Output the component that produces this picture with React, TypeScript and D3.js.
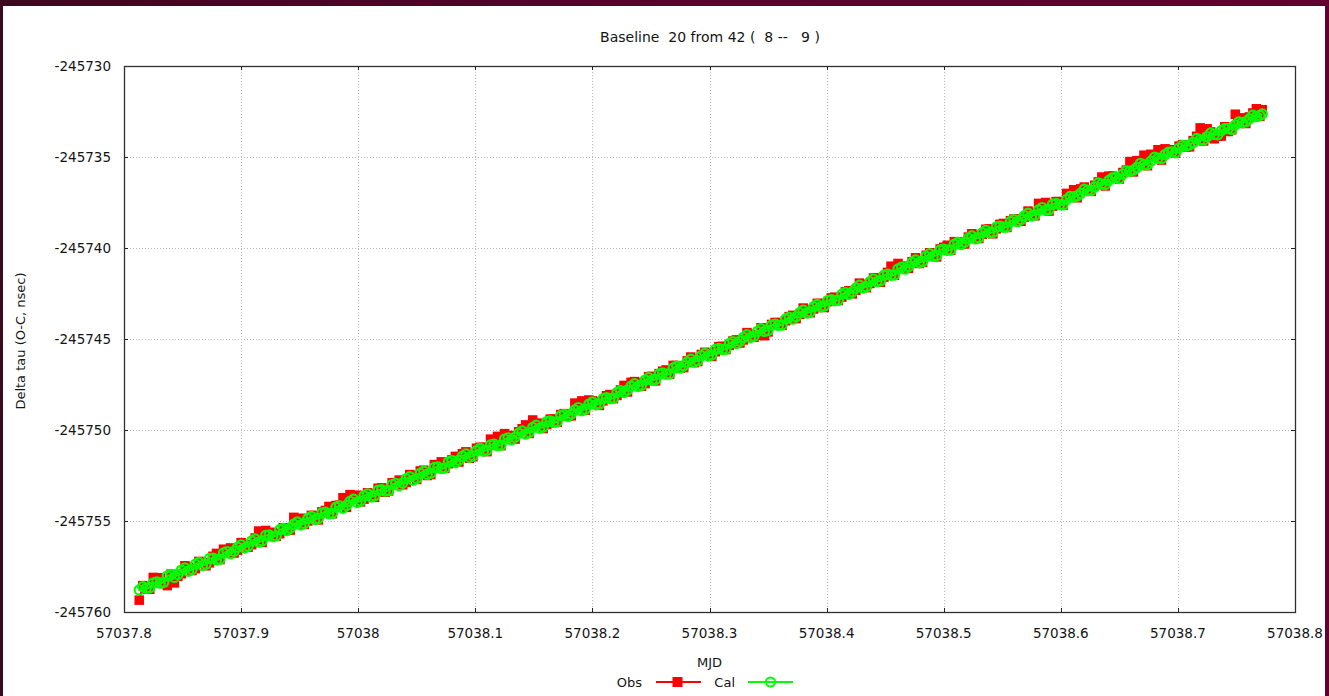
import React from "react";
import * as d3 from "d3";

// Baseline 20 (stations 8 -- 9): observed and calculated delay residuals vs MJD
const mjd = [
  57037.813, 57037.816, 57037.819, 57037.822, 57037.825, 57037.828, 57037.831, 57037.834, 57037.837, 57037.840,
  57037.843, 57037.846, 57037.849, 57037.852, 57037.855, 57037.858, 57037.861, 57037.864, 57037.867, 57037.870,
  57037.873, 57037.876, 57037.879, 57037.882, 57037.885, 57037.888, 57037.891, 57037.894, 57037.897, 57037.900,
  57037.903, 57037.906, 57037.909, 57037.912, 57037.915, 57037.918, 57037.921, 57037.924, 57037.927, 57037.930,
  57037.933, 57037.936, 57037.939, 57037.942, 57037.945, 57037.948, 57037.951, 57037.954, 57037.957, 57037.960,
  57037.963, 57037.966, 57037.969, 57037.972, 57037.975, 57037.978, 57037.981, 57037.984, 57037.987, 57037.990,
  57037.993, 57037.996, 57037.999, 57038.002, 57038.005, 57038.008, 57038.011, 57038.014, 57038.017, 57038.020,
  57038.023, 57038.026, 57038.029, 57038.032, 57038.035, 57038.038, 57038.041, 57038.044, 57038.047, 57038.050,
  57038.053, 57038.056, 57038.059, 57038.062, 57038.065, 57038.068, 57038.071, 57038.074, 57038.077, 57038.080,
  57038.083, 57038.086, 57038.089, 57038.092, 57038.095, 57038.098, 57038.101, 57038.104, 57038.107, 57038.110,
  57038.113, 57038.116, 57038.119, 57038.122, 57038.125, 57038.128, 57038.131, 57038.134, 57038.137, 57038.140,
  57038.143, 57038.146, 57038.149, 57038.152, 57038.155, 57038.158, 57038.161, 57038.164, 57038.167, 57038.170,
  57038.173, 57038.176, 57038.179, 57038.182, 57038.185, 57038.188, 57038.191, 57038.194, 57038.197, 57038.200,
  57038.203, 57038.206, 57038.209, 57038.212, 57038.215, 57038.218, 57038.221, 57038.224, 57038.227, 57038.230,
  57038.233, 57038.236, 57038.239, 57038.242, 57038.245, 57038.248, 57038.251, 57038.254, 57038.257, 57038.260,
  57038.263, 57038.266, 57038.269, 57038.272, 57038.275, 57038.278, 57038.281, 57038.284, 57038.287, 57038.290,
  57038.293, 57038.296, 57038.299, 57038.302, 57038.305, 57038.308, 57038.311, 57038.314, 57038.317, 57038.320,
  57038.323, 57038.326, 57038.329, 57038.332, 57038.335, 57038.338, 57038.341, 57038.344, 57038.347, 57038.350,
  57038.353, 57038.356, 57038.359, 57038.362, 57038.365, 57038.368, 57038.371, 57038.374, 57038.377, 57038.380,
  57038.383, 57038.386, 57038.389, 57038.392, 57038.395, 57038.398, 57038.401, 57038.404, 57038.407, 57038.410,
  57038.413, 57038.416, 57038.419, 57038.422, 57038.425, 57038.428, 57038.431, 57038.434, 57038.437, 57038.440,
  57038.443, 57038.446, 57038.449, 57038.452, 57038.455, 57038.458, 57038.461, 57038.464, 57038.467, 57038.470,
  57038.473, 57038.476, 57038.479, 57038.482, 57038.485, 57038.488, 57038.491, 57038.494, 57038.497, 57038.500,
  57038.503, 57038.506, 57038.509, 57038.512, 57038.515, 57038.518, 57038.521, 57038.524, 57038.527, 57038.530,
  57038.533, 57038.536, 57038.539, 57038.542, 57038.545, 57038.548, 57038.551, 57038.554, 57038.557, 57038.560,
  57038.563, 57038.566, 57038.569, 57038.572, 57038.575, 57038.578, 57038.581, 57038.584, 57038.587, 57038.590,
  57038.593, 57038.596, 57038.599, 57038.602, 57038.605, 57038.608, 57038.611, 57038.614, 57038.617, 57038.620,
  57038.623, 57038.626, 57038.629, 57038.632, 57038.635, 57038.638, 57038.641, 57038.644, 57038.647, 57038.650,
  57038.653, 57038.656, 57038.659, 57038.662, 57038.665, 57038.668, 57038.671, 57038.674, 57038.677, 57038.680,
  57038.683, 57038.686, 57038.689, 57038.692, 57038.695, 57038.698, 57038.701, 57038.704, 57038.707, 57038.710,
  57038.713, 57038.716, 57038.719, 57038.722, 57038.725, 57038.728, 57038.731, 57038.734, 57038.737, 57038.740,
  57038.743, 57038.746, 57038.749, 57038.752, 57038.755, 57038.758, 57038.761, 57038.764, 57038.767, 57038.770,
  57038.772,
];

const obs = [
  -245759.35, -245758.55, -245758.75, -245758.75, -245758.10, -245758.25, -245758.12, -245758.39, -245758.55, -245757.92,
  -245758.40, -245758.04, -245757.90, -245757.46, -245757.55, -245757.72, -245757.62, -245757.22, -245757.30, -245757.46,
  -245757.30, -245756.94, -245756.78, -245757.12, -245756.55, -245756.64, -245756.48, -245756.76, -245756.60, -245756.19,
  -245756.30, -245756.44, -245756.30, -245755.93, -245755.55, -245756.18, -245755.52, -245755.67, -245755.62, -245755.84,
  -245755.70, -245755.37, -245755.40, -245755.50, -245754.80, -245754.93, -245754.85, -245755.19, -245755.00, -245754.69,
  -245754.70, -245754.94, -245754.50, -245754.42, -245754.20, -245754.60, -245754.15, -245754.13, -245753.72, -245754.25,
  -245753.55, -245753.68, -245753.58, -245753.95, -245753.80, -245753.45, -245753.50, -245753.70, -245753.20, -245753.18,
  -245753.42, -245753.35, -245752.90, -245752.89, -245752.75, -245753.01, -245752.88, -245752.45, -245752.50, -245752.72,
  -245752.25, -245752.21, -245752.50, -245752.45, -245751.90, -245751.93, -245751.75, -245752.11, -245751.85, -245751.64,
  -245751.45, -245751.76, -245751.30, -245751.20, -245751.55, -245751.47, -245751.00, -245750.95, -245750.95, -245751.19,
  -245750.50, -245750.68, -245750.35, -245750.86, -245750.20, -245750.39, -245750.30, -245750.50, -245750.10, -245749.93,
  -245749.72, -245750.19, -245749.45, -245749.68, -245749.62, -245749.92, -245749.70, -245749.40, -245749.40, -245749.57,
  -245749.15, -245749.10, -245749.25, -245749.22, -245748.52, -245748.65, -245748.40, -245748.91, -245748.35, -245748.40,
  -245748.45, -245748.65, -245748.40, -245748.12, -245748.05, -245748.28, -245748.10, -245747.80, -245747.55, -245747.91,
  -245747.38, -245747.34, -245747.40, -245747.59, -245747.45, -245747.07, -245747.05, -245747.30, -245746.90, -245746.77,
  -245746.70, -245746.94, -245746.45, -245746.46, -245746.60, -245746.57, -245746.20, -245745.99, -245746.30, -245746.24,
  -245745.85, -245745.73, -245745.80, -245745.96, -245745.70, -245745.42, -245745.40, -245745.58, -245745.35, -245745.11,
  -245745.05, -245745.22, -245745.05, -245744.65, -245744.75, -245744.90, -245744.80, -245744.38, -245744.82, -245744.61,
  -245744.20, -245744.09, -245744.10, -245744.25, -245744.00, -245743.77, -245743.70, -245743.88, -245743.65, -245743.30,
  -245743.40, -245743.56, -245743.35, -245743.04, -245743.05, -245743.27, -245742.95, -245742.74, -245742.70, -245742.89,
  -245742.70, -245742.41, -245742.35, -245742.52, -245742.32, -245741.93, -245742.00, -245742.18, -245741.95, -245741.65,
  -245741.65, -245741.88, -245741.60, -245741.34, -245741.00, -245741.50, -245740.85, -245741.02, -245741.00, -245741.12,
  -245740.75, -245740.54, -245740.85, -245740.79, -245740.40, -245740.26, -245740.45, -245740.49, -245740.05, -245739.96,
  -245739.85, -245740.13, -245739.65, -245739.66, -245739.80, -245739.78, -245739.40, -245739.22, -245739.30, -245739.48,
  -245739.25, -245738.97, -245738.95, -245739.22, -245738.95, -245738.70, -245738.65, -245738.87, -245738.50, -245738.41,
  -245738.40, -245738.53, -245738.30, -245737.97, -245738.05, -245738.23, -245737.55, -245737.72, -245737.50, -245737.97,
  -245737.70, -245737.45, -245737.45, -245737.65, -245737.00, -245737.13, -245736.80, -245737.24, -245736.75, -245736.65,
  -245736.85, -245736.89, -245736.55, -245736.37, -245736.10, -245736.59, -245736.05, -245736.05, -245736.15, -245736.21,
  -245735.85, -245735.72, -245735.25, -245735.82, -245735.20, -245735.23, -245734.90, -245735.48, -245734.85, -245734.95,
  -245734.60, -245735.17, -245734.55, -245734.64, -245734.60, -245734.79, -245734.40, -245734.32, -245734.45, -245734.44,
  -245734.10, -245733.86, -245733.40, -245734.12, -245733.45, -245733.62, -245734.00, -245733.86, -245733.85, -245733.34,
  -245733.60, -245733.51, -245732.65, -245733.04, -245732.85, -245733.16, -245732.80, -245732.58, -245732.35, -245732.77,
  -245732.40,
];

const cal = [
  -245758.79, -245758.61, -245758.70, -245758.67, -245758.40, -245758.35, -245758.42, -245758.37, -245758.02, -245757.96,
  -245758.10, -245757.94, -245757.70, -245757.58, -245757.76, -245757.67, -245757.38, -245757.28, -245757.45, -245757.38,
  -245757.06, -245757.04, -245757.14, -245757.10, -245756.76, -245756.68, -245756.80, -245756.66, -245756.44, -245756.31,
  -245756.48, -245756.39, -245756.10, -245755.99, -245756.16, -245756.10, -245755.80, -245755.77, -245755.86, -245755.82,
  -245755.48, -245755.41, -245755.54, -245755.40, -245755.18, -245755.05, -245755.22, -245755.14, -245754.86, -245754.75,
  -245754.92, -245754.86, -245754.56, -245754.52, -245754.61, -245754.58, -245754.24, -245754.17, -245754.30, -245754.15,
  -245753.92, -245753.80, -245753.98, -245753.90, -245753.62, -245753.51, -245753.68, -245753.62, -245753.31, -245753.28,
  -245753.36, -245753.33, -245753.00, -245752.93, -245753.06, -245752.91, -245752.68, -245752.57, -245752.76, -245752.67,
  -245752.38, -245752.27, -245752.44, -245752.37, -245752.06, -245752.03, -245752.12, -245752.09, -245751.76, -245751.68,
  -245751.80, -245751.66, -245751.44, -245751.32, -245751.50, -245751.42, -245751.14, -245751.01, -245751.16, -245751.11,
  -245750.82, -245750.78, -245750.86, -245750.84, -245750.51, -245750.43, -245750.54, -245750.40, -245750.18, -245750.05,
  -245750.22, -245750.14, -245749.86, -245749.74, -245749.90, -245749.84, -245749.54, -245749.50, -245749.58, -245749.55,
  -245749.22, -245749.14, -245749.26, -245749.12, -245748.90, -245748.77, -245748.94, -245748.86, -245748.58, -245748.46,
  -245748.61, -245748.57, -245748.28, -245748.22, -245748.28, -245748.26, -245747.94, -245747.84, -245747.94, -245747.81,
  -245747.60, -245747.46, -245747.61, -245747.54, -245747.26, -245747.13, -245747.27, -245747.22, -245746.92, -245746.87,
  -245746.94, -245746.92, -245746.59, -245746.50, -245746.60, -245746.47, -245746.26, -245746.11, -245746.26, -245746.19,
  -245745.92, -245745.79, -245745.93, -245745.88, -245745.58, -245745.52, -245745.58, -245745.56, -245745.24, -245745.15,
  -245745.25, -245745.12, -245744.91, -245744.77, -245744.92, -245744.85, -245744.58, -245744.44, -245744.58, -245744.53,
  -245744.24, -245744.19, -245744.25, -245744.23, -245743.90, -245743.81, -245743.91, -245743.78, -245743.56, -245743.42,
  -245743.58, -245743.51, -245743.23, -245743.10, -245743.24, -245743.19, -245742.89, -245742.84, -245742.90, -245742.87,
  -245742.54, -245742.45, -245742.55, -245742.42, -245742.20, -245742.05, -245742.20, -245742.13, -245741.85, -245741.71,
  -245741.85, -245741.80, -245741.50, -245741.44, -245741.50, -245741.48, -245741.15, -245741.06, -245741.16, -245741.02,
  -245740.80, -245740.66, -245740.81, -245740.74, -245740.46, -245740.32, -245740.46, -245740.41, -245740.11, -245740.06,
  -245740.12, -245740.11, -245739.79, -245739.70, -245739.81, -245739.68, -245739.47, -245739.34, -245739.50, -245739.43,
  -245739.16, -245739.03, -245739.18, -245739.14, -245738.85, -245738.80, -245738.86, -245738.85, -245738.54, -245738.45,
  -245738.55, -245738.43, -245738.23, -245738.09, -245738.24, -245738.18, -245737.91, -245737.78, -245737.93, -245737.89,
  -245737.60, -245737.55, -245737.62, -245737.63, -245737.34, -245737.17, -245737.20, -245737.14, -245737.00, -245736.77,
  -245736.84, -245736.84, -245736.64, -245736.43, -245736.49, -245736.51, -245736.29, -245736.15, -245736.13, -245736.19,
  -245735.94, -245735.76, -245735.78, -245735.72, -245735.58, -245735.35, -245735.42, -245735.43, -245735.23, -245735.01,
  -245735.07, -245735.09, -245734.87, -245734.74, -245734.72, -245734.77, -245734.51, -245734.36, -245734.40, -245734.34,
  -245734.20, -245733.98, -245734.06, -245734.07, -245733.88, -245733.68, -245733.76, -245733.78, -245733.56, -245733.44,
  -245733.44, -245733.49, -245733.24, -245733.08, -245733.12, -245733.06, -245732.91, -245732.70, -245732.78, -245732.72,
  -245732.64,
];

const xTicks = [57037.8, 57037.9, 57038.0, 57038.1, 57038.2, 57038.3, 57038.4, 57038.5, 57038.6, 57038.7, 57038.8];
const xTickLabels = ["57037.8", "57037.9", "57038", "57038.1", "57038.2", "57038.3", "57038.4", "57038.5", "57038.6", "57038.7", "57038.8"];
const yTicks = [-245730, -245735, -245740, -245745, -245750, -245755, -245760];
const yTickLabels = ["-245730", "-245735", "-245740", "-245745", "-245750", "-245755", "-245760"];

const titleText = "Baseline  20 from 42 (  8 --   9 )";
const xAxisTitle = "MJD";
const yAxisTitle = "Delta tau (O-C, nsec)";
const seriesNames = ["Obs", "Cal"];

const W = 1329;
const H = 696;
const plot = { left: 124, right: 1295, top: 66, bottom: 612 };
const FONT = "'DejaVu Sans', Verdana, sans-serif";
const TEXT = "#141414";
const RED = "#ff0000";
const GREEN = "#00ff00";

export default function App() {
  const x = d3.scaleLinear().domain([57037.8, 57038.8]).range([plot.left, plot.right]);
  const y = d3.scaleLinear().domain([-245760, -245730]).range([plot.bottom, plot.top]);

  const obsPts: [number, number][] = mjd.map((t, i) => [x(t), y(obs[i])]);
  const calPts: [number, number][] = mjd.map((t, i) => [x(t), y(cal[i])]);
  const line = d3.line();

  const sq = 9.5;
  const cr = 4.6;

  const legendY = 682;

  return (
    <svg
      width={W}
      height={H}
      style={{ position: "absolute", left: 0, top: 0, display: "block" }}
      fontFamily={FONT}
    >
      <defs>
        <linearGradient id="frame" x1="0" x2="1" y1="0" y2="0">
          <stop offset="0" stopColor="#3a0a1e" />
          <stop offset="0.5" stopColor="#5a002c" />
          <stop offset="1" stopColor="#62002f" />
        </linearGradient>
        <clipPath id="plotClip">
          <rect x={plot.left} y={plot.top} width={plot.right - plot.left} height={plot.bottom - plot.top} />
        </clipPath>
      </defs>

      {/* window frame and white canvas */}
      <rect x={0} y={0} width={W} height={H} fill="url(#frame)" />
      <rect x={3} y={6} width={1322} height={H - 6} fill="#ffffff" />

      {/* grid */}
      <g stroke="#b8b8b8" strokeWidth={1} strokeDasharray="1,2">
        {xTicks.slice(1, -1).map((t) => (
          <line key={"gx" + t} x1={Math.round(x(t)) + 0.5} x2={Math.round(x(t)) + 0.5} y1={plot.top} y2={plot.bottom} />
        ))}
        {yTicks.slice(1, -1).map((t) => (
          <line key={"gy" + t} x1={plot.left} x2={plot.right} y1={Math.round(y(t)) + 0.5} y2={Math.round(y(t)) + 0.5} />
        ))}
      </g>

      {/* tick marks on all four sides */}
      <g stroke="#202020" strokeWidth={1}>
        {xTicks.slice(1, -1).map((t) => {
          const px = Math.round(x(t)) + 0.5;
          return (
            <g key={"tx" + t}>
              <line x1={px} x2={px} y1={plot.top} y2={plot.top + 4} />
              <line x1={px} x2={px} y1={plot.bottom} y2={plot.bottom - 4} />
            </g>
          );
        })}
        {yTicks.slice(1, -1).map((t) => {
          const py = Math.round(y(t)) + 0.5;
          return (
            <g key={"ty" + t}>
              <line x1={plot.left} x2={plot.left + 4} y1={py} y2={py} />
              <line x1={plot.right} x2={plot.right - 4} y1={py} y2={py} />
            </g>
          );
        })}
      </g>

      {/* series */}
      <g clipPath="url(#plotClip)">
        <path d={line(obsPts) || ""} fill="none" stroke={RED} strokeWidth={2} />
        {obsPts.map(([px, py], i) => (
          <rect key={"o" + i} x={px - sq / 2} y={py - sq / 2} width={sq} height={sq} fill={RED} />
        ))}
        <path d={line(calPts) || ""} fill="none" stroke={GREEN} strokeWidth={2} />
        {calPts.map(([px, py], i) => (
          <circle key={"c" + i} cx={px} cy={py} r={cr} fill="none" stroke={GREEN} strokeWidth={2.2} />
        ))}
      </g>

      {/* plot frame */}
      <rect
        x={plot.left + 0.5}
        y={plot.top + 0.5}
        width={plot.right - plot.left}
        height={plot.bottom - plot.top}
        fill="none"
        stroke="#303030"
        strokeWidth={1.3}
      />

      {/* tick labels */}
      <g fill={TEXT} fontSize={13.5}>
        {xTicks.map((t, i) => (
          <text key={"lx" + t} x={x(t)} y={638} textAnchor="middle">
            {xTickLabels[i]}
          </text>
        ))}
        {yTicks.map((t, i) => (
          <text key={"ly" + t} x={111} y={y(t)} dy="0.36em" textAnchor="end">
            {yTickLabels[i]}
          </text>
        ))}
      </g>

      {/* titles */}
      <text x={710} y={42} textAnchor="middle" fontSize={14} fill={TEXT} style={{ whiteSpace: "pre" }}>
        {titleText}
      </text>
      <text x={709.5} y={667} textAnchor="middle" fontSize={13} fill={TEXT}>
        {xAxisTitle}
      </text>
      <text
        transform="translate(25,341) rotate(-90)"
        textAnchor="middle"
        fontSize={13}
        fill={TEXT}
      >
        {yAxisTitle}
      </text>

      {/* legend */}
      <g fontSize={13} fill={TEXT}>
        <text x={642} y={legendY + 5} textAnchor="end">{seriesNames[0]}</text>
        <line x1={656} x2={701} y1={legendY} y2={legendY} stroke={RED} strokeWidth={2} />
        <rect x={677.5 - 5} y={legendY - 5} width={10} height={10} fill={RED} />
        <text x={735} y={legendY + 5} textAnchor="end">{seriesNames[1]}</text>
        <line x1={748} x2={793} y1={legendY} y2={legendY} stroke={GREEN} strokeWidth={2} />
        <circle cx={770.5} cy={legendY} r={cr} fill="none" stroke={GREEN} strokeWidth={2} />
      </g>
    </svg>
  );
}
